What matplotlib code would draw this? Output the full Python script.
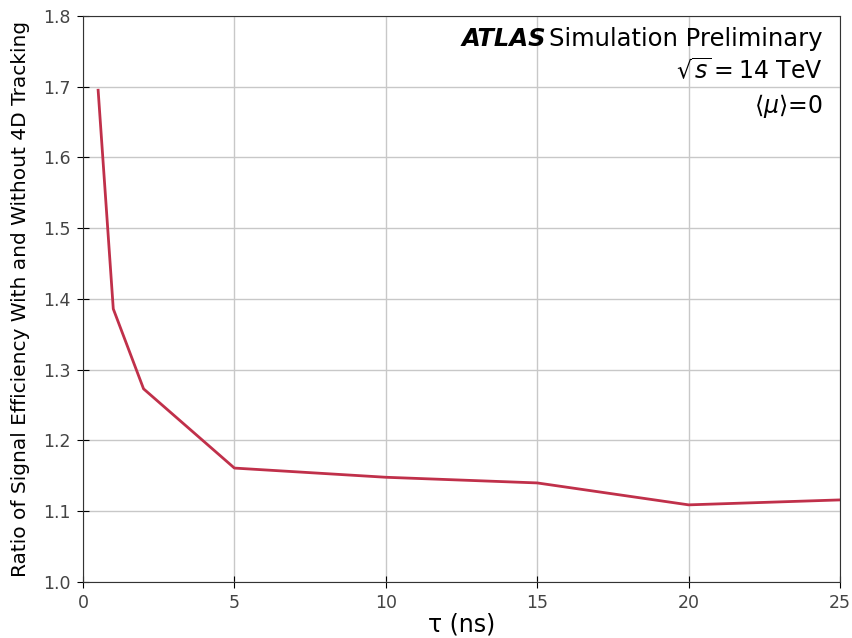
import matplotlib
matplotlib.use("Agg")
import matplotlib.pyplot as plt

tau = [0.5, 1, 2, 5, 10, 15, 20, 25]
ratio = [1.695, 1.386, 1.273, 1.161, 1.148, 1.140, 1.109, 1.116]
xticks = [0, 5, 10, 15, 20, 25]
yticks = [1.0, 1.1, 1.2, 1.3, 1.4, 1.5, 1.6, 1.7, 1.8]

fig = plt.figure(figsize=(8.53, 6.38), dpi=100)
ax = fig.add_axes([0.0973, 0.0878, 0.8875, 0.8872])
ax.plot(tau, ratio, color="#c0304a", lw=2)
ax.set_xlim(0, 25)
ax.set_ylim(1.0, 1.8)
ax.set_xticks(xticks)
ax.set_yticks(yticks)
ax.set_yticklabels([f"{v:.1f}" for v in yticks])
ax.grid(True, color="#c8c8c8", lw=1)
ax.tick_params(direction="inout", length=8, labelsize=12.5, labelcolor="#444444", pad=5)
for s in ax.spines.values():
    s.set_color("#333333")
ax.set_xlabel("τ (ns)", fontsize=17, labelpad=0)
ax.set_ylabel("Ratio of Signal Efficiency With and Without 4D Tracking",
              fontsize=14.5, labelpad=9)

sim = ax.text(0.9775, 0.947, "Simulation Preliminary", transform=ax.transAxes,
              ha="right", va="baseline", fontsize=17.5)
t = ax.text(0.5, 0.947, "ATLAS", transform=ax.transAxes, fontsize=17.5,
            fontweight="bold", fontstyle="italic", ha="right", va="baseline")
fig.canvas.draw()
r = fig.canvas.get_renderer()
bb = sim.get_window_extent(r)
inv = ax.transAxes.inverted()
x0 = inv.transform((bb.x0 - 3, bb.y0))[0]
t.set_position((x0, 0.947))
ax.text(0.9775, 0.889, r"$\sqrt{s} = 14$ TeV", transform=ax.transAxes, ha="right",
        va="baseline", fontsize=17)
ax.text(0.9775, 0.829, r"$\langle\mu\rangle$=0", transform=ax.transAxes, ha="right",
        va="baseline", fontsize=17)

fig.savefig("out.png", dpi=100)
